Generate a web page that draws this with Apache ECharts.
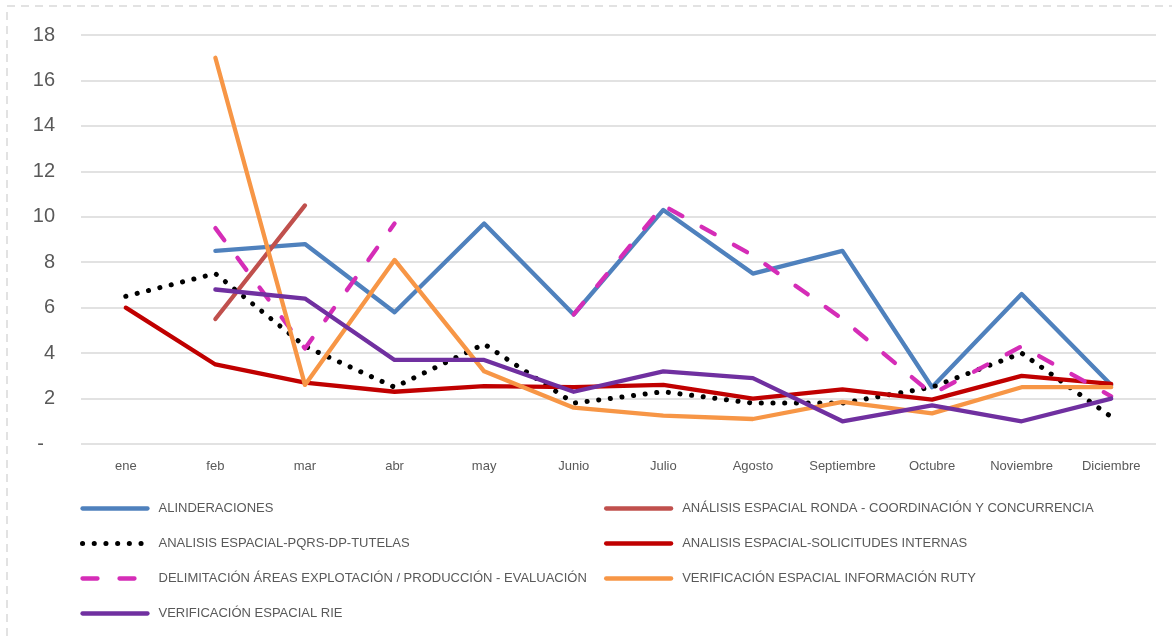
<!DOCTYPE html>
<html>
<head>
<meta charset="utf-8">
<script src="https://cdn.jsdelivr.net/npm/echarts@6/dist/echarts.min.js"></script>
<style>
html,body{margin:0;padding:0;background:#fff;}
#c{width:1172px;height:638px;}
</style>
</head>
<body>
<div id="c"></div>
<script>
const categories = ['ene','feb','mar','abr','may','Junio','Julio','Agosto','Septiembre','Octubre','Noviembre','Diciembre'];
const yTicks = [0, 18, 2];

const names = [
  'ALINDERACIONES',
  'ANÁLISIS ESPACIAL RONDA - COORDINACIÓN Y CONCURRENCIA',
  'ANALISIS ESPACIAL-PQRS-DP-TUTELAS',
  'ANALISIS ESPACIAL-SOLICITUDES INTERNAS',
  'DELIMITACIÓN ÁREAS EXPLOTACIÓN / PRODUCCIÓN - EVALUACIÓN',
  'VERIFICACIÓN ESPACIAL INFORMACIÓN RUTY',
  'VERIFICACIÓN ESPACIAL RIE'
];

const alinderaciones = [null, 8.5, 8.8, 5.8, 9.7, 5.7, 10.3, 7.5, 8.5, 2.5, 6.6, 2.6];
const ronda          = [null, 5.5, 10.5, null, null, null, null, null, null, null, null, null];
const pqrs           = [6.5, 7.5, 4.3, 2.5, 4.4, 1.8, 2.3, 1.8, 1.8, 2.5, 4.0, 1.2];
const solicitudes    = [6.0, 3.5, 2.7, 2.3, 2.55, 2.5, 2.6, 2.0, 2.4, 1.95, 3.0, 2.65];
const delimitacion   = [null, 9.5, 4.2, 9.7, null, 5.7, 10.5, 8.3, 5.5, 2.2, 4.3, 2.1];
const ruty           = [null, 17.0, 2.6, 8.1, 3.2, 1.6, 1.25, 1.1, 1.85, 1.35, 2.5, 2.5];
const rie            = [null, 6.8, 6.4, 3.7, 3.7, 2.3, 3.2, 2.9, 1.0, 1.7, 1.0, 2.0];

const seriesData = [alinderaciones, ronda, pqrs, solicitudes, delimitacion, ruty, rie];
const colors = ['#4F81BD','#C0504D','#000000','#C00000','#D52DB7','#F79646','#7030A0'];
const lineTypes = ['solid','solid',[0.1, 11.6],'solid',[15, 22],'solid','solid'];

const FONT = '"Liberation Sans", Arial, sans-serif';
const chart = echarts.init(document.getElementById('c'), null, {renderer:'canvas'});

const series = seriesData.map((d, i) => ({
  name: names[i],
  type: 'line',
  data: d,
  symbol: 'none',
  connectNulls: false,
  color: colors[i],
  lineStyle: {
    color: colors[i],
    width: i === 2 ? 5 : 4.3,
    type: lineTypes[i],
    cap: 'round',
    join: 'round'
  },
  emphasis: {disabled: true},
  animation: false,
  z: 2 + i
}));

const legendCommon = {
  orient: 'vertical',
  top: 502,
  itemWidth: 65,
  itemHeight: 14,
  itemGap: 22,
  padding: 0,
  itemStyle: {opacity: 0},
  lineStyle: {width: 4.3},
  textStyle: {fontFamily: FONT, fontSize: 13, color: '#595959', padding: [0,0,0,6]},
  selectedMode: false
};

chart.setOption({
  animation: false,
  backgroundColor: '#ffffff',
  graphic: [{
    type: 'rect',
    shape: {x: 7, y: 6, width: 1300, height: 800},
    style: {fill: 'none', stroke: '#D9D9D9', lineWidth: 1.5, lineDash: [8, 6]},
    silent: true, z: 0
  }],
  grid: {left: 81, right: 16, top: 35, bottom: 194},
  legend: [
    Object.assign({}, legendCommon, {left: 80, data: [names[0], {name: names[2], lineStyle: {width: 5}}, names[4], names[6]]}),
    Object.assign({}, legendCommon, {left: 604, data: [names[1], names[3], names[5]]})
  ],
  xAxis: {
    type: 'category',
    data: categories,
    boundaryGap: true,
    axisLine: {show: false},
    axisTick: {show: false},
    axisLabel: {fontFamily: FONT, fontSize: 13, color: '#595959', margin: 16, interval: 0}
  },
  yAxis: {
    type: 'value',
    min: yTicks[0], max: yTicks[1], interval: yTicks[2],
    axisLine: {show: false},
    axisTick: {show: false},
    splitLine: {lineStyle: {color: '#D9D9D9', width: 1.5}},
    axisLabel: {
      fontFamily: FONT, fontSize: 20, color: '#595959', margin: 26,
      formatter: v => v === 0 ? '-  ' : String(v)
    }
  },
  series: series
});
</script>
</body>
</html>
